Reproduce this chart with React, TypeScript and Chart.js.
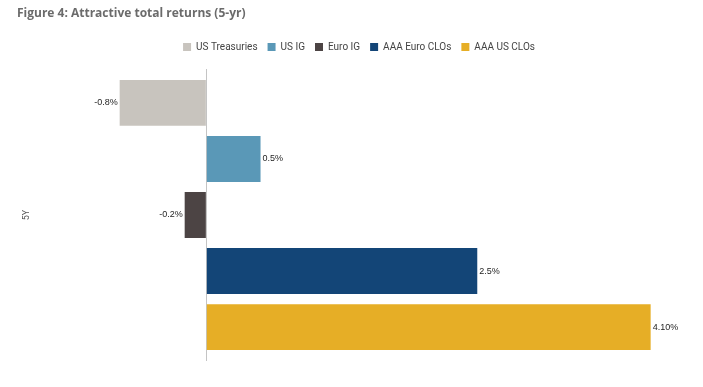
import React, { useEffect, useRef } from "react";
import { Chart, registerables } from "chart.js";

Chart.register(...registerables);

const categories = ["5Y"];
const seriesNames = ["US Treasuries", "US IG", "Euro IG", "AAA Euro CLOs", "AAA US CLOs"];
const seriesValues = [-0.8, 0.5, -0.2, 2.5, 4.1];
const valueLabels = ["-0.8%", "0.5%", "-0.2%", "2.5%", "4.10%"];
const seriesColors = ["#c8c4be", "#5a98b7", "#4c4444", "#134577", "#e6ae26"];
const xMin = -1.5;
const xMax = 4.5;

const valueLabelPlugin = {
  id: "valueLabels",
  afterDatasetsDraw(chart: any) {
    const ctx = chart.ctx;
    ctx.save();
    ctx.font = "9px 'Liberation Sans', Arial";
    ctx.fillStyle = "#1e1e1e";
    ctx.textBaseline = "middle";
    chart.data.datasets.forEach((ds: any, i: number) => {
      const meta = chart.getDatasetMeta(i);
      meta.data.forEach((el: any) => {
        const v = ds.data[0];
        if (v >= 0) {
          ctx.textAlign = "left";
          ctx.fillText(valueLabels[i], el.x + 2, el.y);
        } else {
          ctx.textAlign = "right";
          ctx.fillText(valueLabels[i], el.x - 2, el.y);
        }
      });
    });
    ctx.restore();
  },
};

const legendHeightPlugin = {
  id: "legendHeight",
  beforeInit(chart: any) {
    const orig = chart.legend.fit;
    chart.legend.fit = function () {
      orig.call(this);
      this.height = 37;
    };
  },
};

export default function App() {
  const ref = useRef<HTMLCanvasElement>(null);
  useEffect(() => {
    const chart = new Chart(ref.current as HTMLCanvasElement, {
      type: "bar",
      data: {
        labels: categories,
        datasets: seriesNames.map((name, i) => ({
          label: name,
          data: [seriesValues[i]],
          backgroundColor: seriesColors[i],
          borderWidth: 0,
          categoryPercentage: 0.96,
          barPercentage: 0.82,
        })),
      },
      options: {
        indexAxis: "y",
        animation: false,
        responsive: false,
        maintainAspectRatio: false,
        layout: { padding: { top: 32, left: 24, right: 9, bottom: 26 } },
        plugins: {
          legend: {
            position: "top",
            labels: {
              boxWidth: 8,
              boxHeight: 8,
              padding: 10,
              color: "#444444",
              font: { family: "Roboto", size: 10 },
            },
          },
          tooltip: { enabled: false },
        },
        scales: {
          x: {
            min: xMin,
            max: xMax,
            ticks: { display: false },
            border: { display: false },
            grid: {
              drawTicks: false,
              color: (c: any) => (c.tick && c.tick.value === 0 ? "#c4c4c4" : "rgba(0,0,0,0)"),
            },
          },
          y: {
            ticks: { display: false },
            border: { display: false },
            grid: { display: false, drawTicks: false },
            title: {
              display: true,
              text: categories[0],
              color: "#555555",
              font: { family: "Roboto", size: 9 },
              padding: { top: -3, bottom: 12 },
            },
          },
        },
      },
      plugins: [valueLabelPlugin, legendHeightPlugin],
    } as any);
    return () => chart.destroy();
  }, []);
  return (
    <div style={{ position: "absolute", left: 0, top: 0, width: 703, height: 387, background: "#fff" }}>
      <div
        style={{
          position: "absolute",
          left: 17,
          top: 4,
          fontFamily: "'Open Sans'",
          fontWeight: 700,
          fontSize: 12,
          color: "#6b6b6b",
          whiteSpace: "nowrap",
        }}
      >
        Figure 4: Attractive total returns (5-yr)
      </div>
      <canvas ref={ref} width={703} height={387} style={{ display: "block", width: 703, height: 387 }} />
    </div>
  );
}
